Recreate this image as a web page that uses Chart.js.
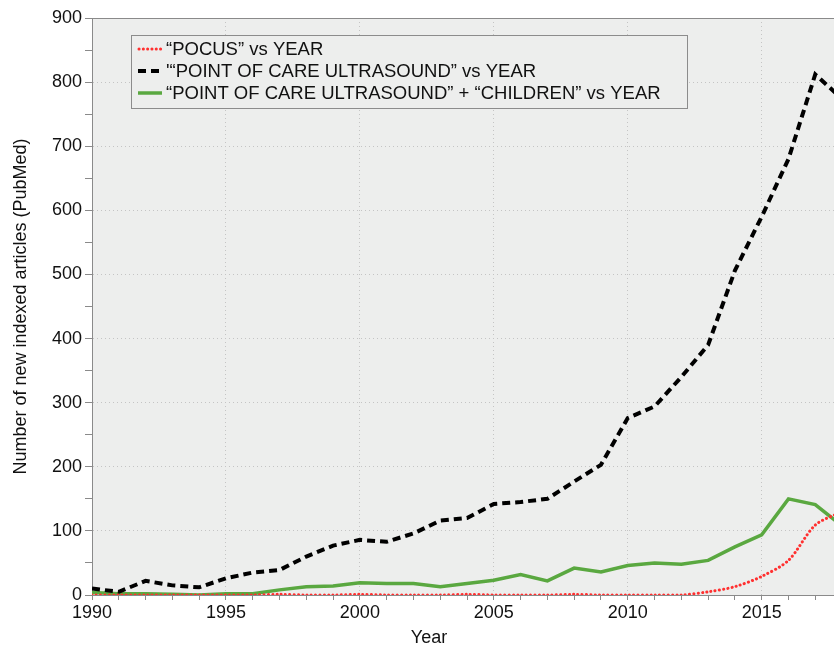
<!DOCTYPE html>
<html>
<head>
<meta charset="utf-8">
<script src="https://cdn.jsdelivr.net/npm/chart.js@4/dist/chart.umd.min.js"></script>
<style>
  html, body { margin: 0; padding: 0; background: #fff; }
  #wrap { width: 834px; height: 646px; position: relative; }
</style>
</head>
<body>
<div id="wrap"><canvas id="pocusChart"></canvas></div>
<script>
// ---- Données ----
const years = [1990, 1991, 1992, 1993, 1994, 1995, 1996, 1997, 1998, 1999,
               2000, 2001, 2002, 2003, 2004, 2005, 2006, 2007, 2008, 2009,
               2010, 2011, 2012, 2013, 2014, 2015, 2016, 2017, 2018];

const pocus = [0, 0, 0, 0, 0, 0, 0, 1, 0, 0,
               1, 0, 0, 0, 1, 0, 0, 0, 1, 0,
               0, 0, 0, 5, 13, 29, 54, 109, 130];

const pointOfCare = [10, 5, 22, 15, 12, 26, 35, 39, 60, 77,
                     86, 83, 96, 116, 120, 142, 145, 150, 177, 203,
                     276, 294, 340, 390, 506, 590, 680, 812, 774];

const pocChildren = [4, 2, 2, 1, 0, 2, 2, 8, 13, 14,
                     19, 18, 18, 13, 18, 23, 32, 22, 42, 36,
                     46, 50, 48, 54, 75, 94, 150, 141, 108];

const seriesLabels = [
    '“POCUS” vs YEAR',
    '\'“POINT OF CARE ULTRASOUND” vs YEAR',
    '“POINT OF CARE ULTRASOUND” + “CHILDREN” vs YEAR'
];

// graduations : majeures tous les 5 ans / 100 articles, mineures entre
const xTicks = years.slice(0, 28);           // 1990 .. 2017
const xLabelStep = 5;
const yTicks = [0, 50, 100, 150, 200, 250, 300, 350, 400, 450,
                500, 550, 600, 650, 700, 750, 800, 850, 900];
const yLabelStep = 100;

const X_MIN = 1990, X_MAX = 2017.7, Y_MIN = 0, Y_MAX = 900;

const toXY = (vals) => vals.map((v, i) => ({ x: years[i], y: v }));

const FONT = '"Liberation Sans", Arial, Helvetica, sans-serif';
const PLOT_BG = '#edeeed';
const AXIS_COL = '#8a8a8a';
const GRID_COL = '#c4c4c4';

// ---- Fond gris + cadre de la zone de tracé ----
const plotBackground = {
    id: 'plotBackground',
    beforeDraw(chart) {
        const { ctx, chartArea: a } = chart;
        ctx.save();
        ctx.fillStyle = PLOT_BG;
        ctx.fillRect(a.left, a.top, a.right - a.left, a.bottom - a.top);
        ctx.restore();
    },
    afterDraw(chart) {
        const { ctx, chartArea: a } = chart;
        ctx.save();
        ctx.strokeStyle = AXIS_COL;
        ctx.lineWidth = 1;
        ctx.beginPath();
        ctx.moveTo(a.left, a.top + 0.5);
        ctx.lineTo(a.right, a.top + 0.5);
        ctx.stroke();
        ctx.restore();
    }
};

// ---- Légende encadrée dans la zone de tracé ----
const boxedLegend = {
    id: 'boxedLegend',
    afterDraw(chart) {
        const { ctx } = chart;
        const box = { x: 131, y: 35, w: 556, h: 73 };
        ctx.save();
        ctx.fillStyle = PLOT_BG;
        ctx.fillRect(box.x, box.y, box.w, box.h);
        ctx.strokeStyle = '#8c8c8c';
        ctx.lineWidth = 1;
        ctx.strokeRect(box.x + 0.5, box.y + 0.5, box.w, box.h);

        ctx.font = `18.5px ${FONT}`;
        ctx.textBaseline = 'middle';
        chart.data.datasets.forEach((ds, i) => {
            const yy = 49 + i * 22;
            ctx.save();
            ctx.strokeStyle = ds.borderColor;
            ctx.lineWidth = ds.borderWidth;
            ctx.lineCap = ds.borderCapStyle || 'butt';
            ctx.setLineDash(ds.borderDash || []);
            ctx.beginPath();
            ctx.moveTo(ds.borderCapStyle === 'round' ? 139 : 138, yy);
            ctx.lineTo(162, yy);
            ctx.stroke();
            ctx.restore();
            ctx.fillStyle = '#111';
            ctx.fillText(ds.label, 166, yy + 1);
        });
        ctx.restore();
    }
};

// ---- Titre de l'axe X (décalé comme sur la figure) ----
const xAxisTitle = {
    id: 'xAxisTitle',
    afterDraw(chart) {
        const { ctx } = chart;
        ctx.save();
        ctx.font = `18px ${FONT}`;
        ctx.fillStyle = '#111';
        ctx.textAlign = 'center';
        ctx.textBaseline = 'middle';
        ctx.fillText('Year', 429, 638);
        ctx.restore();
    }
};

const ctx = document.getElementById('pocusChart').getContext('2d');

new Chart(ctx, {
    type: 'line',
    data: {
        datasets: [
            {
                label          : seriesLabels[0],
                data           : toXY(pocus),
                borderColor    : '#ff3030',
                borderWidth    : 3,
                borderDash     : [0.1, 4.2],
                borderCapStyle : 'round',
                tension        : 0.3,
                pointRadius    : 0,
                fill           : false
            },
            {
                label          : seriesLabels[1],
                data           : toXY(pointOfCare),
                borderColor    : '#000000',
                borderWidth    : 4,
                borderDash     : [8, 5],
                tension        : 0,
                pointRadius    : 0,
                fill           : false
            },
            {
                label          : seriesLabels[2],
                data           : toXY(pocChildren),
                borderColor    : '#5aa840',
                borderWidth    : 3.5,
                tension        : 0,
                pointRadius    : 0,
                fill           : false
            }
        ]
    },
    options: {
        responsive         : true,
        maintainAspectRatio: false,
        animation          : false,
        layout: { padding: { top: 18, right: 0, left: 10, bottom: 0 } },
        plugins: {
            legend : { display: false },
            tooltip: { enabled: false }
        },
        scales: {
            x: {
                type: 'linear',
                min : X_MIN,
                max : X_MAX,
                afterBuildTicks: (scale) => {
                    scale.ticks = xTicks.map(v => ({ value: v }));
                },
                afterFit: (scale) => { scale.height = 51; },
                grid: {
                    color     : (c) => (c.tick && c.tick.value % xLabelStep === 0
                                         && c.tick.value !== X_MIN) ? GRID_COL : 'rgba(0,0,0,0)',
                    tickColor : AXIS_COL,
                    tickLength: 5,
                    lineWidth : 1
                },
                border: { color: AXIS_COL, width: 1, dash: [1, 3] },
                ticks: {
                    autoSkip   : false,
                    maxRotation: 0,
                    padding    : 2,
                    color      : '#111',
                    font       : { family: FONT, size: 18 },
                    callback   : (v) => v % xLabelStep === 0 ? String(v) : ''
                }
            },
            y: {
                min: Y_MIN,
                max: Y_MAX,
                afterBuildTicks: (scale) => {
                    scale.ticks = yTicks.map(v => ({ value: v }));
                },
                afterFit: (scale) => { scale.width = 82; },
                title: {
                    display: true,
                    text   : 'Number of new indexed articles (PubMed)',
                    color  : '#111',
                    font   : { family: FONT, size: 18 },
                    padding: { top: 0, bottom: 0 }
                },
                grid: {
                    color     : (c) => (c.tick && c.tick.value % yLabelStep === 0
                                         && c.tick.value !== Y_MIN && c.tick.value !== Y_MAX)
                                         ? GRID_COL : 'rgba(0,0,0,0)',
                    tickColor : AXIS_COL,
                    tickLength: 7,
                    lineWidth : 1
                },
                border: { color: AXIS_COL, width: 1, dash: [1, 3] },
                ticks: {
                    autoSkip: false,
                    padding : 3,
                    color   : '#111',
                    font    : { family: FONT, size: 18 },
                    callback: (v) => v % yLabelStep === 0 ? String(v) : ''
                }
            }
        }
    },
    plugins: [plotBackground, boxedLegend, xAxisTitle]
});
</script>
</body>
</html>
